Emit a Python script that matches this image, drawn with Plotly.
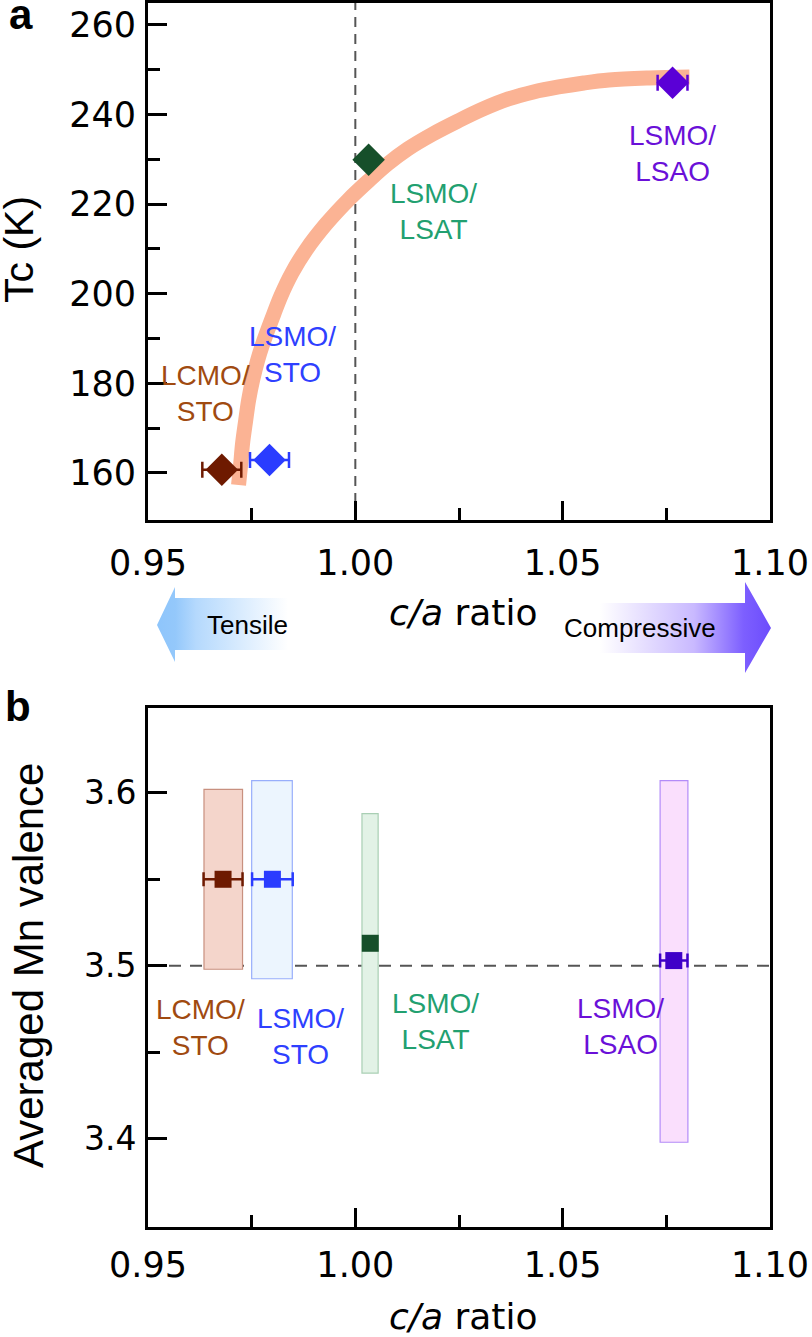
import plotly.graph_objects as go

W, H = 812, 1337

# ---------------- data ----------------
names = ["LCMO/<br>STO", "LSMO/<br>STO", "LSMO/<br>LSAT", "LSMO/<br>LSAO"]
marker_colors_a = ["#6e1a00", "#2a3cff", "#164f2a", "#5a00d6"]
marker_colors_b = ["#6e1a00", "#2a3cff", "#164f2a", "#3f00c8"]
label_colors = ["#a04a10", "#2e40ff", "#22a070", "#6a10d8"]

# panel a
ca_a = [0.9678, 0.9793, 1.0032, 1.0765]
ca_a_err = [0.0047, 0.0047, 0.0, 0.0036]
tc = [160.7, 162.9, 229.9, 247.1]

# guide-to-the-eye curve in panel a
curve_ca = [0.97184, 0.97233, 0.97282, 0.97354, 0.97427, 0.97524, 0.97646, 0.97767,
            0.97888, 0.98034, 0.98204, 0.98471, 0.98811, 0.99296, 0.99830, 1.00340,
            1.00777, 1.01262, 1.01869, 1.02476, 1.03083, 1.03689, 1.04296, 1.04903,
            1.05510, 1.06117, 1.07087, 1.08058]
curve_tc = [157.32, 161.79, 166.70, 171.61, 176.29, 180.76, 185.22, 188.79,
            191.92, 195.49, 199.51, 204.64, 209.78, 215.58, 220.94, 225.40,
            228.97, 232.32, 235.67, 238.57, 241.25, 243.48, 245.04, 246.16,
            247.05, 247.72, 248.17, 248.39]

# panel b
ca_b = [0.9681, 0.9800, 1.0036, 1.0768]
ca_b_err = [0.0047, 0.0049, 0.0, 0.0033]
valence = [3.550, 3.550, 3.513, 3.503]
box_x0 = [0.9635, 0.9750, 1.0016, 1.0735]
box_x1 = [0.9728, 0.9848, 1.0055, 1.0802]
box_y0 = [3.498, 3.4925, 3.438, 3.398]
box_y1 = [3.602, 3.607, 3.588, 3.607]
box_fill = ["#f4d5cb", "#ecf5fe", "#e2f2e6", "#fadffd"]
box_line = ["#c8907f", "#98aefb", "#a9cfb4", "#b38cf8"]

x_range = [0.95, 1.10]
x_minor = [0.975, 1.025, 1.075]
tc_range = [149.5, 264.9]
tc_minor = [170, 190, 210, 230, 250]
val_range = [3.349, 3.649]
val_minor = [3.45, 3.55]


def px(x):
    return x / W


def py(y):
    return 1 - y / H


fig = go.Figure()

# orange curve
fig.add_trace(go.Scatter(x=curve_ca, y=curve_tc, mode="lines",
                         line=dict(color="#fbb394", width=15, shape="spline", smoothing=1.0),
                         xaxis="x", yaxis="y", hoverinfo="skip", showlegend=False))

for i in range(4):
    fig.add_trace(go.Scatter(
        x=[ca_a[i]], y=[tc[i]], mode="markers",
        marker=dict(symbol="diamond", size=25, color=marker_colors_a[i], line=dict(width=0)),
        error_x=dict(type="data", array=[ca_a_err[i]], visible=ca_a_err[i] > 0,
                     color=marker_colors_a[i], thickness=2.5, width=8),
        xaxis="x", yaxis="y", showlegend=False))

for i in range(4):
    fig.add_trace(go.Scatter(
        x=[ca_b[i]], y=[valence[i]], mode="markers",
        marker=dict(symbol="square", size=17, color=marker_colors_b[i], line=dict(width=0)),
        error_x=dict(type="data", array=[ca_b_err[i]], visible=ca_b_err[i] > 0,
                     color=marker_colors_b[i], thickness=2.5, width=7),
        xaxis="x2", yaxis="y2", showlegend=False))

# strain arrows (pixel overlay axis)
fig.add_trace(go.Scatter(
    x=[157, 175, 175, 288, 288, 175, 175, 157],
    y=[625, 587, 598, 598, 650, 650, 662, 625],
    mode="lines", fill="toself", line=dict(width=0),
    fillgradient=dict(type="horizontal",
                      colorscale=[[0, "#8ec5fb"], [0.14, "#94c8fb"], [0.3, "#b5d9fd"], [1, "#ffffff"]]),
    xaxis="x3", yaxis="y3", hoverinfo="skip", showlegend=False))
fig.add_trace(go.Scatter(
    x=[600, 745, 745, 771, 745, 745, 600, 600],
    y=[603, 603, 582, 628, 673, 653, 653, 603],
    mode="lines", fill="toself", line=dict(width=0),
    fillgradient=dict(type="horizontal",
                      colorscale=[[0, "#ffffff"], [0.55, "#c9b9ff"], [0.84, "#7d5fff"], [1, "#6c4cfc"]]),
    xaxis="x3", yaxis="y3", hoverinfo="skip", showlegend=False))

shapes = []
# dashed reference lines
shapes.append(dict(type="line", xref="x", yref="y domain", x0=1.0, x1=1.0, y0=0, y1=1,
                   line=dict(color="#555555", width=2, dash="10px,7px"), layer="below"))
shapes.append(dict(type="line", xref="x2 domain", yref="y2", x0=0, x1=1, y0=3.5, y1=3.5,
                   line=dict(color="#555555", width=2, dash="12px,9px"), layer="below"))
for i in range(4):
    shapes.append(dict(type="rect", xref="x2", yref="y2",
                       x0=box_x0[i], x1=box_x1[i], y0=box_y0[i], y1=box_y1[i],
                       fillcolor=box_fill[i], line=dict(color=box_line[i], width=1.2),
                       layer="below"))

label_font = "Liberation Sans, Arial, sans-serif"
ann = []
# sample labels
pos_a = [(205, 393.5), (292, 355), (434, 211), (672, 153)]
pos_b = [(200, 1027.5), (300, 1036.5), (435, 1021.5), (620, 1026.5)]
for i in range(4):
    for (x, y) in (pos_a[i], pos_b[i]):
        ann.append(dict(xref="paper", yref="paper", x=px(x), y=py(y), text=names[i],
                        showarrow=False, xanchor="center", yanchor="middle",
                        font=dict(family=label_font, size=28, color=label_colors[i])))

# axis titles
ann.append(dict(xref="paper", yref="paper", x=px(19), y=py(250), text="Tc (K)", textangle=-90,
                showarrow=False, xanchor="center", yanchor="middle",
                font=dict(family=label_font, size=41, color="black")))
ann.append(dict(xref="paper", yref="paper", x=px(28), y=py(966), text="Averaged Mn valence",
                textangle=-90, showarrow=False, xanchor="center", yanchor="middle",
                font=dict(family=label_font, size=42, color="black")))
for y in (612, 1316):
    ann.append(dict(xref="paper", yref="paper", x=px(463), y=py(y), text="<i>c/a</i> ratio",
                    showarrow=False, xanchor="center", yanchor="middle",
                    font=dict(family="DejaVu Sans, Verdana, sans-serif", size=36, color="black")))
# arrow texts
ann.append(dict(xref="paper", yref="paper", x=px(247), y=py(625), text="Tensile",
                showarrow=False, xanchor="center", yanchor="middle",
                font=dict(family=label_font, size=26, color="black")))
ann.append(dict(xref="paper", yref="paper", x=px(640), y=py(628), text="Compressive",
                showarrow=False, xanchor="center", yanchor="middle",
                font=dict(family=label_font, size=26, color="black")))
# panel letters
ann.append(dict(xref="paper", yref="paper", x=px(21), y=py(14), text="<b>a</b>",
                showarrow=False, xanchor="center", yanchor="middle",
                font=dict(family=label_font, size=42, color="black")))
ann.append(dict(xref="paper", yref="paper", x=px(18), y=py(707), text="<b>b</b>",
                showarrow=False, xanchor="center", yanchor="middle",
                font=dict(family=label_font, size=42, color="black")))

xdom = [px(148), px(770)]


def xaxis_common(standoff):
    return dict(range=x_range, domain=xdom, showline=True, linewidth=3, linecolor="black",
                mirror=True, ticks="inside", ticklen=19, tickwidth=3, tickcolor="black",
                tick0=0.95, dtick=0.05, tickformat=".2f", showgrid=False, zeroline=False,
                tickfont=dict(family="DejaVu Sans, Verdana, sans-serif", size=35, color="black"),
                ticklabelstandoff=standoff, ticklabeloverflow="allow", automargin=False,
                minor=dict(ticks="inside", tickmode="array", tickvals=x_minor, ticklen=12,
                           tickwidth=3, tickcolor="black", showgrid=False))


def yaxis_common(rng, dom, t0, dt, fmt, minor_vals, fsize):
    return dict(range=rng, domain=dom, showline=True, linewidth=3, linecolor="black",
                mirror=True, ticks="inside", ticklen=19, tickwidth=3, tickcolor="black",
                tick0=t0, dtick=dt, tickformat=fmt, showgrid=False, zeroline=False,
                tickfont=dict(family="DejaVu Sans, Verdana, sans-serif", size=fsize, color="black"),
                ticklabelstandoff=2, ticklabeloverflow="allow", automargin=False,
                minor=dict(ticks="inside", tickmode="array", tickvals=minor_vals, ticklen=12,
                           tickwidth=3, tickcolor="black", showgrid=False))


fig.update_layout(
    width=W, height=H, margin=dict(l=0, r=0, t=0, b=0, pad=0, autoexpand=False),
    paper_bgcolor="white", plot_bgcolor="rgba(0,0,0,0)",
    showlegend=False,
    xaxis=dict(anchor="y", **xaxis_common(10)),
    yaxis=dict(anchor="x", **yaxis_common(tc_range, [py(520), py(3)], 160, 20, "d",
                                          tc_minor, 35)),
    xaxis2=dict(anchor="y2", **xaxis_common(5)),
    yaxis2=dict(anchor="x2", **yaxis_common(val_range, [py(1227), py(708)], 3.4, 0.1, ".1f",
                                            val_minor, 33)),
    xaxis3=dict(anchor="y3", domain=[0, 1], range=[0, W], visible=False, fixedrange=True,
                automargin=False, showticklabels=False),
    yaxis3=dict(anchor="x3", domain=[0, 1], range=[H, 0], visible=False, fixedrange=True,
                automargin=False, showticklabels=False),
    shapes=shapes, annotations=ann,
)

# the page body's default 8 px margin would push the figure out of the window
fig.write_html("out.html", config={"responsive": False, "displayModeBar": False},
               post_script="document.body.style.margin='0px';")
